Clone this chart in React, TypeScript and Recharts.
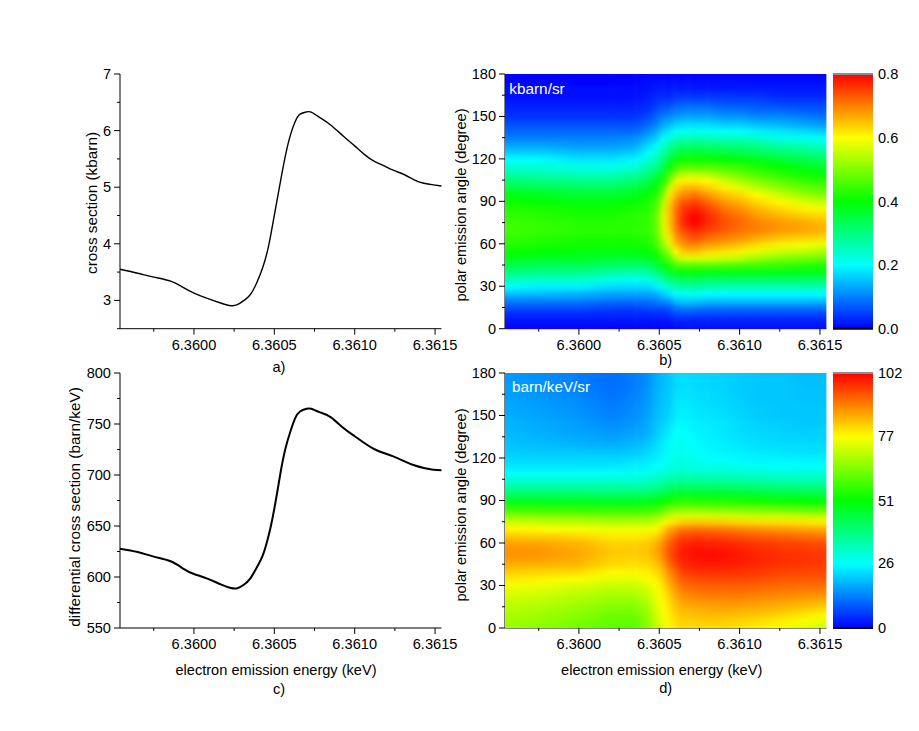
import React from 'react';
import {
  ComposedChart,
  LineChart,
  ScatterChart,
  Bar,
  Line,
  Scatter,
  XAxis,
  YAxis,
  ReferenceLine,
} from 'recharts';

const FONT = '"Liberation Sans", Arial, sans-serif';
const AXIS_W = 60;
const AXIS_H = 34;
const PAD = 10;
const PAD_RIGHT = 30;

const xDomain: [number, number] = [6.35954, 6.36154];
const xTicks = [6.35975, 6.36, 6.36025, 6.3605, 6.36075, 6.361, 6.36125, 6.3615];
const xMajor = [6.36, 6.3605, 6.361, 6.3615];

// panels a) and c)
const lineEnergy = [
  6.35954, 6.35965, 6.35975, 6.359855, 6.359938, 6.36, 6.360083, 6.36017, 6.36023, 6.36027,
  6.36031, 6.36035, 6.36039, 6.36043, 6.360457, 6.36048, 6.36051, 6.36054, 6.36057, 6.3606,
  6.36063, 6.36066, 6.3607, 6.36073, 6.36078, 6.36085, 6.36093, 6.361, 6.36106, 6.36112,
  6.36118, 6.36124, 6.36131, 6.36137, 6.36143, 6.36149, 6.36154,
];
const crossSection = [
  3.55, 3.48, 3.41, 3.34, 3.22, 3.13, 3.035, 2.95, 2.906, 2.924, 2.995, 3.1, 3.307, 3.6, 3.87,
  4.19, 4.66, 5.13, 5.57, 5.92, 6.16, 6.29, 6.33, 6.325, 6.235, 6.1, 5.9, 5.73, 5.58, 5.46, 5.38,
  5.3, 5.22, 5.13, 5.07, 5.04, 5.02,
];
const diffCrossSection = [
  627.8, 624.5, 620, 615.4, 607.8, 603, 598.4, 592.5, 589.2, 589, 592.4, 598.5, 609, 622, 636,
  651, 675.7, 703.5, 726.4, 742.7, 755.8, 762.3, 764.9, 764.9, 761.7, 756.8, 746, 738, 731.4,
  725.5, 721.6, 718.3, 713.4, 709.5, 706.9, 705.2, 704.6,
];

// panels b) and d): one list per energy, values from 0 to 180 degrees
const heatEnergy = [
  6.35954, 6.35975, 6.36, 6.3602, 6.36035, 6.36043, 6.36048, 6.36052, 6.36056, 6.3606, 6.36064,
  6.36068, 6.36072, 6.3608, 6.3609, 6.361, 6.3611, 6.36125, 6.3614, 6.36154,
];
const heatAngle = [
  0, 5, 10, 15, 20, 25, 30, 35, 40, 45, 50, 55, 60, 65, 70, 75, 80, 85, 90, 95, 100, 105, 110, 115,
  120, 125, 130, 135, 140, 145, 150, 155, 160, 165, 170, 175, 180,
];
const kbarnColumns = [
  [0, .01, .03, .06, .10, .15, .20, .25, .30, .34, .38, .41, .43, .44, .45, .45, .44, .43, .41, .39, .35, .31, .27, .23, .20, .16, .13, .10, .08, .06, .04, .03, .02, .01, .01, 0, 0],
  [0, .01, .03, .06, .10, .15, .19, .24, .29, .33, .37, .40, .42, .43, .44, .44, .43, .42, .40, .38, .34, .30, .26, .23, .20, .16, .13, .10, .08, .06, .04, .03, .02, .01, .01, 0, 0],
  [0, .01, .03, .06, .10, .14, .19, .24, .29, .33, .37, .39, .41, .42, .43, .43, .42, .41, .39, .36, .33, .29, .25, .22, .18, .15, .12, .10, .08, .06, .04, .03, .02, .01, .01, 0, 0],
  [0, .01, .03, .05, .09, .13, .17, .22, .27, .32, .36, .39, .41, .42, .43, .43, .42, .41, .39, .36, .33, .29, .25, .21, .18, .15, .12, .10, .08, .06, .04, .03, .02, .01, .01, 0, 0],
  [0, .01, .03, .05, .09, .13, .17, .21, .26, .31, .36, .39, .41, .42, .43, .43, .43, .42, .40, .38, .35, .31, .27, .23, .195, .16, .13, .11, .08, .06, .04, .03, .02, .01, .01, 0, 0],
  [0, .01, .03, .06, .09, .13, .17, .22, .27, .32, .37, .40, .42, .43, .44, .44, .44, .43, .42, .40, .37, .34, .30, .27, .23, .20, .17, .14, .11, .08, .06, .04, .03, .02, .01, .01, 0],
  [0, .01, .03, .06, .10, .14, .19, .24, .30, .35, .39, .42, .45, .46, .47, .47, .47, .46, .45, .43, .40, .37, .33, .29, .26, .23, .20, .16, .13, .10, .08, .06, .04, .03, .02, .01, 0],
  [0, .01, .03, .06, .11, .16, .21, .27, .33, .38, .43, .47, .51, .54, .56, .57, .57, .55, .53, .49, .45, .41, .37, .33, .30, .27, .24, .20, .16, .13, .10, .07, .05, .03, .02, .01, 0],
  [0, .01, .04, .07, .12, .18, .24, .30, .36, .42, .47, .52, .57, .61, .63, .64, .64, .64, .63, .61, .56, .49, .44, .39, .35, .31, .27, .22, .18, .14, .11, .08, .05, .03, .02, .01, 0],
  [0, .02, .05, .09, .15, .20, .26, .32, .38, .45, .53, .60, .65, .68, .70, .71, .71, .71, .69, .66, .63, .58, .50, .44, .39, .34, .30, .25, .20, .16, .12, .09, .06, .04, .02, .01, 0],
  [.01, .02, .05, .10, .16, .21, .27, .33, .39, .46, .57, .64, .68, .71, .74, .76, .76, .75, .73, .69, .65, .61, .53, .46, .41, .36, .31, .26, .21, .17, .13, .10, .07, .04, .02, .01, 0],
  [.01, .02, .05, .10, .16, .21, .27, .33, .39, .46, .57, .65, .70, .73, .76, .79, .79, .77, .74, .70, .66, .61, .54, .46, .41, .36, .31, .26, .21, .17, .13, .10, .07, .04, .02, .01, 0],
  [.01, .02, .05, .10, .16, .21, .27, .33, .39, .46, .57, .65, .70, .74, .77, .80, .80, .78, .75, .71, .66, .61, .54, .46, .41, .36, .31, .26, .21, .17, .13, .10, .07, .04, .02, .01, 0],
  [.01, .02, .05, .09, .15, .20, .26, .32, .38, .46, .57, .63, .68, .72, .75, .77, .77, .75, .72, .68, .64, .60, .53, .46, .41, .36, .31, .26, .21, .17, .13, .10, .07, .04, .02, .01, 0],
  [.01, .02, .05, .09, .15, .20, .26, .32, .38, .46, .56, .62, .67, .70, .73, .74, .73, .71, .68, .65, .61, .56, .50, .45, .40, .35, .31, .25, .20, .16, .12, .09, .06, .04, .02, .01, 0],
  [.01, .02, .05, .09, .15, .20, .26, .32, .38, .45, .55, .61, .65, .69, .71, .72, .71, .69, .66, .63, .58, .53, .48, .44, .39, .34, .30, .25, .20, .16, .12, .09, .06, .04, .02, .01, 0],
  [.01, .02, .05, .09, .15, .20, .26, .32, .38, .45, .52, .58, .63, .67, .70, .70, .68, .66, .63, .60, .55, .50, .46, .42, .38, .33, .29, .24, .19, .15, .11, .08, .06, .04, .02, .01, 0],
  [.01, .02, .05, .09, .15, .20, .26, .32, .38, .44, .50, .56, .61, .65, .68, .68, .66, .63, .605, .56, .51, .47, .43, .40, .36, .31, .27, .22, .18, .14, .11, .08, .05, .03, .02, .01, 0],
  [.01, .02, .05, .09, .15, .20, .26, .32, .38, .43, .49, .55, .59, .64, .67, .67, .64, .61, .57, .52, .48, .44, .41, .38, .34, .30, .26, .21, .17, .13, .10, .07, .05, .03, .02, .01, 0],
  [.01, .02, .05, .09, .15, .20, .26, .32, .38, .42, .48, .53, .58, .63, .66, .65, .63, .59, .55, .50, .46, .43, .39, .36, .33, .28, .24, .20, .16, .12, .09, .07, .05, .03, .02, .01, 0],
];
const barnColumns = [
  [66, 67, 68, 69.5, 71, 73, 75.5, 78.5, 81.5, 84.5, 87, 87.5, 86, 82, 77.5, 72, 64, 56, 48, 41, 35, 30, 25.5, 23, 21.5, 20.5, 19.5, 19, 18.5, 18, 17.5, 17, 16.5, 16, 16, 15.5, 15.5],
  [65, 66, 67, 68.5, 70, 72, 74.5, 77.5, 81, 84, 86.5, 87, 85.5, 81.5, 77, 71, 63, 55.5, 47.5, 41, 35, 30, 25.5, 23, 21.5, 20, 19, 18, 17.5, 17, 16.5, 16, 15.5, 15, 15, 14.5, 14.5],
  [62, 63, 64.5, 66, 68, 70, 72.5, 76, 80, 83.5, 85, 85, 84, 80.5, 76, 70, 62.5, 55, 47.5, 41, 35, 30, 25.5, 23, 21.5, 20, 18, 17, 16, 15.5, 15, 14.5, 14, 13.5, 13, 12.5, 12.5],
  [60, 61, 62, 64, 66, 68, 71, 74, 77, 80, 81.5, 82, 81, 78.5, 75, 69, 62, 54.5, 47, 40.5, 35, 30, 26, 23, 21.5, 19.5, 17.5, 16, 15, 14, 13, 12.5, 12, 11.5, 11, 11, 11],
  [60, 60.5, 62, 64, 66, 68.5, 71, 74, 77.5, 79.5, 81, 81.5, 81, 78.5, 75, 69, 62, 54.5, 47.5, 41, 35, 30, 26.5, 24, 22, 20, 18.5, 17, 16, 15, 14.5, 14, 13.5, 13, 12.5, 12.5, 12.5],
  [65, 65.5, 66.5, 68, 69.5, 71.5, 73.5, 76, 78, 80, 82, 82.5, 82, 79, 75.5, 69.5, 62.5, 55, 48, 41.5, 35.5, 31, 27, 24.5, 23, 21.5, 20, 18.5, 17.5, 17, 16.5, 16, 15.5, 15, 15, 14.5, 14.5],
  [70, 70.5, 71.5, 72.5, 74, 75, 76, 78, 80, 82, 84, 85, 84, 81, 77, 71, 64, 56, 49, 42.5, 36.5, 32, 28, 25.5, 24, 23, 22, 21, 20, 19.5, 19, 18.5, 18, 18, 17.5, 17.5, 17.5],
  [74, 75, 76, 76.5, 77, 78, 79, 81, 83, 85.5, 88, 89, 88, 85, 80.5, 75, 66, 58, 51, 44, 38, 33, 29, 26.5, 25, 24, 23.5, 22.5, 21.5, 20.5, 20, 19.5, 19.5, 19, 19, 18.5, 18.5],
  [77, 77.5, 78, 79, 80, 81.5, 83.5, 86, 88, 91, 93, 93.5, 92, 89, 85, 78.5, 70, 61, 53, 46, 40, 34.5, 30, 28, 26.5, 26, 25.5, 24.5, 23.5, 22.5, 21.5, 21, 20.5, 20.5, 20, 20, 20],
  [79, 80, 81, 82.5, 84, 86, 88, 90, 92, 95, 97, 97, 96, 93, 88, 80, 71.5, 62.5, 54.5, 47, 41, 35.5, 31, 29, 27.5, 27, 26.5, 26, 25.5, 24.5, 23.5, 23, 22.5, 22, 21.5, 21.5, 21.5],
  [80, 81, 82.5, 84, 86, 88, 90.5, 93, 95.5, 97.5, 99, 99, 98, 95, 90, 81.5, 72, 63, 55, 47.5, 41, 35.5, 31, 29, 27.5, 27, 26.5, 26, 25.5, 25, 24.5, 24, 23.5, 23, 22.5, 22.5, 22.5],
  [80, 81, 82.5, 84.5, 87, 89, 91.5, 94, 96.5, 98.5, 100, 100, 98.5, 95.5, 90.5, 82, 72, 63, 55, 47.5, 41, 35.5, 31, 28.5, 27, 26.5, 26, 25.5, 25, 24.5, 24, 23.5, 23, 22.5, 22.5, 22, 22],
  [80, 81, 83, 85, 87.5, 90, 92, 94.5, 97, 99, 100.5, 100.5, 99, 96, 91, 82, 72, 63, 55, 47.5, 41, 35.5, 31, 28, 26.5, 26, 25.5, 25, 24.5, 24, 23.5, 23, 22.5, 22.5, 22, 22, 22],
  [80, 81.5, 83.5, 85.5, 88, 90.5, 92.5, 95, 97.5, 99.5, 101, 100.5, 99, 95.5, 90.5, 82, 72, 62.5, 54.5, 47, 41, 35, 30.5, 27.5, 26, 25, 24.5, 24, 24, 23.5, 23, 22.5, 22, 22, 21.5, 21.5, 21.5],
  [80, 81.5, 83.5, 86, 88, 90.5, 92.5, 95, 97.5, 99.5, 100.5, 100, 98.5, 95, 90, 81.5, 71.5, 62, 54, 47, 40.5, 35, 30.5, 27.5, 25.5, 24.5, 24, 23.5, 23, 23, 22.5, 22, 21.5, 21.5, 21, 21, 21],
  [79, 80.5, 83, 85.5, 88, 90.5, 92.5, 95, 97, 98.5, 99.5, 99, 97.5, 94, 89, 80.5, 71, 61.5, 53.5, 46.5, 40, 34.5, 30, 27, 25, 24, 23, 22.5, 22, 22, 21.5, 21, 21, 20.5, 20.5, 20.5, 20.5],
  [78, 80, 82.5, 85, 87.5, 90, 92, 94.5, 96.5, 98, 98.5, 98, 96.5, 93, 88, 80, 70.5, 61, 53, 46, 39.5, 34, 29.5, 26.5, 24.5, 23.5, 22.5, 22, 21.5, 21, 20.5, 20.5, 20, 20, 20, 20, 20],
  [76, 78, 81, 84, 86.5, 89, 91.5, 93.5, 95.5, 97, 97.5, 97, 95.5, 92, 87, 79.5, 70, 60, 52, 45, 39, 33.5, 29, 26, 24.5, 23, 22, 21.5, 21, 20.5, 20, 20, 20, 20, 20, 20, 20],
  [73, 76, 79, 82.5, 85.5, 88.5, 91, 93, 95, 96.5, 97, 96.5, 95, 91, 86, 79, 69.5, 59, 51, 44.5, 38.5, 33, 29, 26, 24, 22.5, 22, 21, 20.5, 20, 20, 20, 19.5, 19.5, 19.5, 19, 19],
  [71, 74, 77, 81, 85, 88, 91, 93, 95, 96, 96.5, 96, 94, 90, 85, 78, 69, 58, 50, 44, 38, 33, 29, 26, 24, 22.5, 22, 21, 21, 20, 20, 20, 19.5, 19.5, 19, 19, 19],
];

const angleTicks = [0, 15, 30, 45, 60, 75, 90, 105, 120, 135, 150, 165, 180];
const angleMajor = [0, 30, 60, 90, 120, 150, 180];
const rainbow = ['#0000ff', '#00ffff', '#00ff00', '#ffff00', '#ff0000'];
const rainbowRgb = [[0, 0, 255], [0, 255, 255], [0, 255, 0], [255, 255, 0], [255, 0, 0]];

const valueColor = (t: number) => {
  const pos = Math.max(0, Math.min(0.9999, t)) * (rainbowRgb.length - 1);
  const i = Math.floor(pos);
  const f = pos - i;
  const c = rainbowRgb[i].map((v, k) => Math.round(v + (rainbowRgb[i + 1][k] - v) * f));
  return `rgb(${c[0]},${c[1]},${c[2]})`;
};

const XTick = ({ x, y, payload }: any) => {
  const major = xMajor.some((m) => Math.abs(m - payload.value) < 1e-7);
  return (
    <g>
      <line x1={x} x2={x} y1={y} y2={y + (major ? 6 : 3)} stroke="#000" />
      {major && (
        <text x={x} y={y + 21} textAnchor="middle" fontSize={14.6} fontFamily={FONT} fill="#000">
          {payload.value.toFixed(4)}
        </text>
      )}
    </g>
  );
};

const makeYTick = (major: number[]) => ({ x, y, payload }: any) => {
  const isMajor = major.includes(payload.value);
  return (
    <g>
      <line x1={x} x2={x - (isMajor ? 6 : 3)} y1={y} y2={y} stroke="#000" />
      {isMajor && (
        <text x={x - 9} y={y + 5} textAnchor="end" fontSize={14.6} fontFamily={FONT} fill="#000">
          {payload.value}
        </text>
      )}
    </g>
  );
};

const Text = ({ x, y, rotate, color, size, children }: any) => (
  <div
    style={{
      position: 'absolute',
      left: x,
      top: y,
      transform: `translate(-50%,-50%)${rotate ? ' rotate(-90deg)' : ''}`,
      whiteSpace: 'nowrap',
      fontFamily: FONT,
      fontSize: size || 14.6,
      color: color || '#000',
    }}
  >
    {children}
  </div>
);

const LinePanel = ({ left, top, width, height, values, domain, ticks, major, strokeWidth }: any) => {
  const data = lineEnergy.map((energy, i) => ({ energy, value: values[i] }));
  return (
    <div style={{ position: 'absolute', left: left - AXIS_W, top: top - PAD }}>
      <LineChart
        width={AXIS_W + width + PAD_RIGHT}
        height={PAD + height + AXIS_H}
        data={data}
        margin={{ top: PAD, right: PAD_RIGHT, left: 0, bottom: 0 }}
      >
        <XAxis
          type="number"
          dataKey="energy"
          domain={xDomain}
          ticks={xTicks}
          interval={0}
          height={AXIS_H}
          tickSize={0}
          tickMargin={0}
          tick={<XTick />}
          tickLine={false}
          stroke="#000"
        />
        <YAxis
          type="number"
          domain={domain}
          ticks={ticks}
          interval={0}
          width={AXIS_W}
          tickSize={0}
          tickMargin={0}
          tick={makeYTick(major)}
          tickLine={false}
          stroke="#000"
        />
        <Line
          type="natural"
          dataKey="value"
          stroke="#000"
          strokeWidth={strokeWidth}
          dot={false}
          isAnimationActive={false}
        />
      </LineChart>
    </div>
  );
};

const HeatPanel = ({ id, left, top, width, height, columns, max }: any) => {
  const points = heatEnergy.flatMap((energy, c) =>
    heatAngle.map((angle, r) => ({ energy, angle, value: columns[c][r], c, r }))
  );
  const pxPerEnergy = width / (xDomain[1] - xDomain[0]);
  const rowPx = (height / 180) * 5;
  const last = heatEnergy.length - 1;
  // each cell runs from its own energy to the next one, blending the two read colours
  const cell = ({ cx, cy, payload }: any) => {
    const { c, r, value } = payload;
    const down = r === 0 ? 12 : rowPx / 2;
    const up = r === heatAngle.length - 1 ? 12 : rowPx / 2;
    const y = cy - up;
    const h = up + down + 0.6;
    const color = valueColor(value / max);
    if (c === last) return <rect x={cx} y={y} width={12} height={h} fill={color} />;
    const gradId = `cell-${id}-${c}-${r}`;
    const w = (heatEnergy[c + 1] - heatEnergy[c]) * pxPerEnergy;
    return (
      <g>
        <linearGradient id={gradId} x1="0" y1="0" x2="1" y2="0">
          <stop offset="0" stopColor={color} />
          <stop offset="1" stopColor={valueColor(columns[c + 1][r] / max)} />
        </linearGradient>
        {c === 0 && <rect x={cx - 12} y={y} width={12.5} height={h} fill={color} />}
        <rect x={cx} y={y} width={w + 0.4} height={h} fill={`url(#${gradId})`} />
      </g>
    );
  };
  return (
    <div className={`heat-${id}`} style={{ position: 'absolute', left: left - AXIS_W, top: top - PAD }}>
      <style>{`.heat-${id} .recharts-scatter { filter: url(#blur-${id}); clip-path: url(#clip-${id}); }`}</style>
      <ScatterChart
        width={AXIS_W + width + PAD_RIGHT}
        height={PAD + height + AXIS_H}
        margin={{ top: PAD, right: PAD_RIGHT, left: 0, bottom: 0 }}
      >
        <defs>
          <filter id={`blur-${id}`} x="-5%" y="-5%" width="110%" height="110%" colorInterpolationFilters="sRGB">
            <feGaussianBlur stdDeviation="2 2.6" />
          </filter>
          <clipPath id={`clip-${id}`} clipPathUnits="userSpaceOnUse">
            <rect x={AXIS_W} y={PAD} width={width} height={height} />
          </clipPath>
        </defs>
        <Scatter data={points} dataKey="value" shape={cell} isAnimationActive={false} />
        <XAxis
          type="number"
          dataKey="energy"
          domain={xDomain}
          ticks={xTicks}
          interval={0}
          height={AXIS_H}
          tickSize={0}
          tickMargin={0}
          tick={<XTick />}
          tickLine={false}
          stroke="#000"
        />
        <YAxis
          type="number"
          dataKey="angle"
          domain={[0, 180]}
          ticks={angleTicks}
          interval={0}
          width={AXIS_W}
          tickSize={0}
          tickMargin={0}
          tick={makeYTick(angleMajor)}
          tickLine={false}
          stroke="#000"
        />
      </ScatterChart>
    </div>
  );
};

const ColorBar = ({ id, top, height, max, ticks, format }: any) => {
  const data = [{ name: 'scale', range: [0, max] }];
  return (
    <div style={{ position: 'absolute', left: 832.7, top: top - PAD }}>
      <ComposedChart
        width={86}
        height={height + 2 * PAD}
        data={data}
        margin={{ top: PAD, right: 6, left: 0, bottom: PAD }}
        barCategoryGap={0}
      >
        <defs>
          <linearGradient id={`bar-${id}`} x1="0" y1="1" x2="0" y2="0">
            {rainbow.map((c, i) => (
              <stop key={c} offset={i / (rainbow.length - 1)} stopColor={c} />
            ))}
          </linearGradient>
        </defs>
        <XAxis dataKey="name" hide />
        <YAxis
          orientation="right"
          type="number"
          domain={[0, max]}
          ticks={ticks}
          interval={0}
          width={40}
          axisLine={false}
          tickLine={false}
          tickSize={0}
          tickMargin={5}
          tickFormatter={format}
          tick={{ fontSize: 14.6, fontFamily: FONT, fill: '#000' }}
        />
        <Bar dataKey="range" fill={`url(#bar-${id})`} isAnimationActive={false} />
        <ReferenceLine y={max} stroke="#8c8c8c" strokeWidth={2} />
        <ReferenceLine y={0} stroke="#000" strokeWidth={2} />
      </ComposedChart>
    </div>
  );
};

const kbarnScale = [0, 0.2, 0.4, 0.6, 0.8];
const barnScale = [0, 26, 51, 77, 102];

export default function App() {
  return (
    <div style={{ position: 'absolute', left: 0, top: 0, width: 919, height: 731, background: '#fff', overflow: 'hidden' }}>
      <LinePanel
        left={119.5}
        top={74}
        width={321.5}
        height={254.7}
        values={crossSection}
        domain={[2.5, 7]}
        ticks={[2.5, 3, 3.5, 4, 4.5, 5, 5.5, 6, 6.5, 7]}
        major={[3, 4, 5, 6, 7]}
        strokeWidth={1.4}
      />
      <LinePanel
        left={119.5}
        top={373.3}
        width={321.5}
        height={255}
        values={diffCrossSection}
        domain={[550, 800]}
        ticks={[550, 575, 600, 625, 650, 675, 700, 725, 750, 775, 800]}
        major={[550, 600, 650, 700, 750, 800]}
        strokeWidth={2}
      />
      <HeatPanel id="b" left={505.3} top={74} width={321.4} height={254.7} columns={kbarnColumns} max={0.8} />
      <HeatPanel id="d" left={505.3} top={373.3} width={321.4} height={255} columns={barnColumns} max={102} />
      <ColorBar id="b" top={74} height={254.7} max={0.8} ticks={kbarnScale} format={(v: number) => v.toFixed(1)} />
      <ColorBar id="d" top={373.3} height={255} max={102} ticks={barnScale} format={(v: number) => String(v)} />

      <Text x={92} y={203} rotate size={15.3}>cross section (kbarn)</Text>
      <Text x={75} y={507} rotate size={15.3}>differential cross section (barn/keV)</Text>
      <Text x={461} y={205} rotate>polar emission angle (degree)</Text>
      <Text x={461} y={505} rotate>polar emission angle (degree)</Text>
      <Text x={276} y={670}>electron emission energy (keV)</Text>
      <Text x={661.7} y={670}>electron emission energy (keV)</Text>
      <Text x={279} y={366.5}>a)</Text>
      <Text x={665.7} y={360}>b)</Text>
      <Text x={279} y={689}>c)</Text>
      <Text x={665.7} y={688}>d)</Text>
      <Text x={537} y={89} color="#fff" size={15.3}>kbarn/sr</Text>
      <Text x={551} y={387} color="#fff" size={15.3}>barn/keV/sr</Text>
    </div>
  );
}
